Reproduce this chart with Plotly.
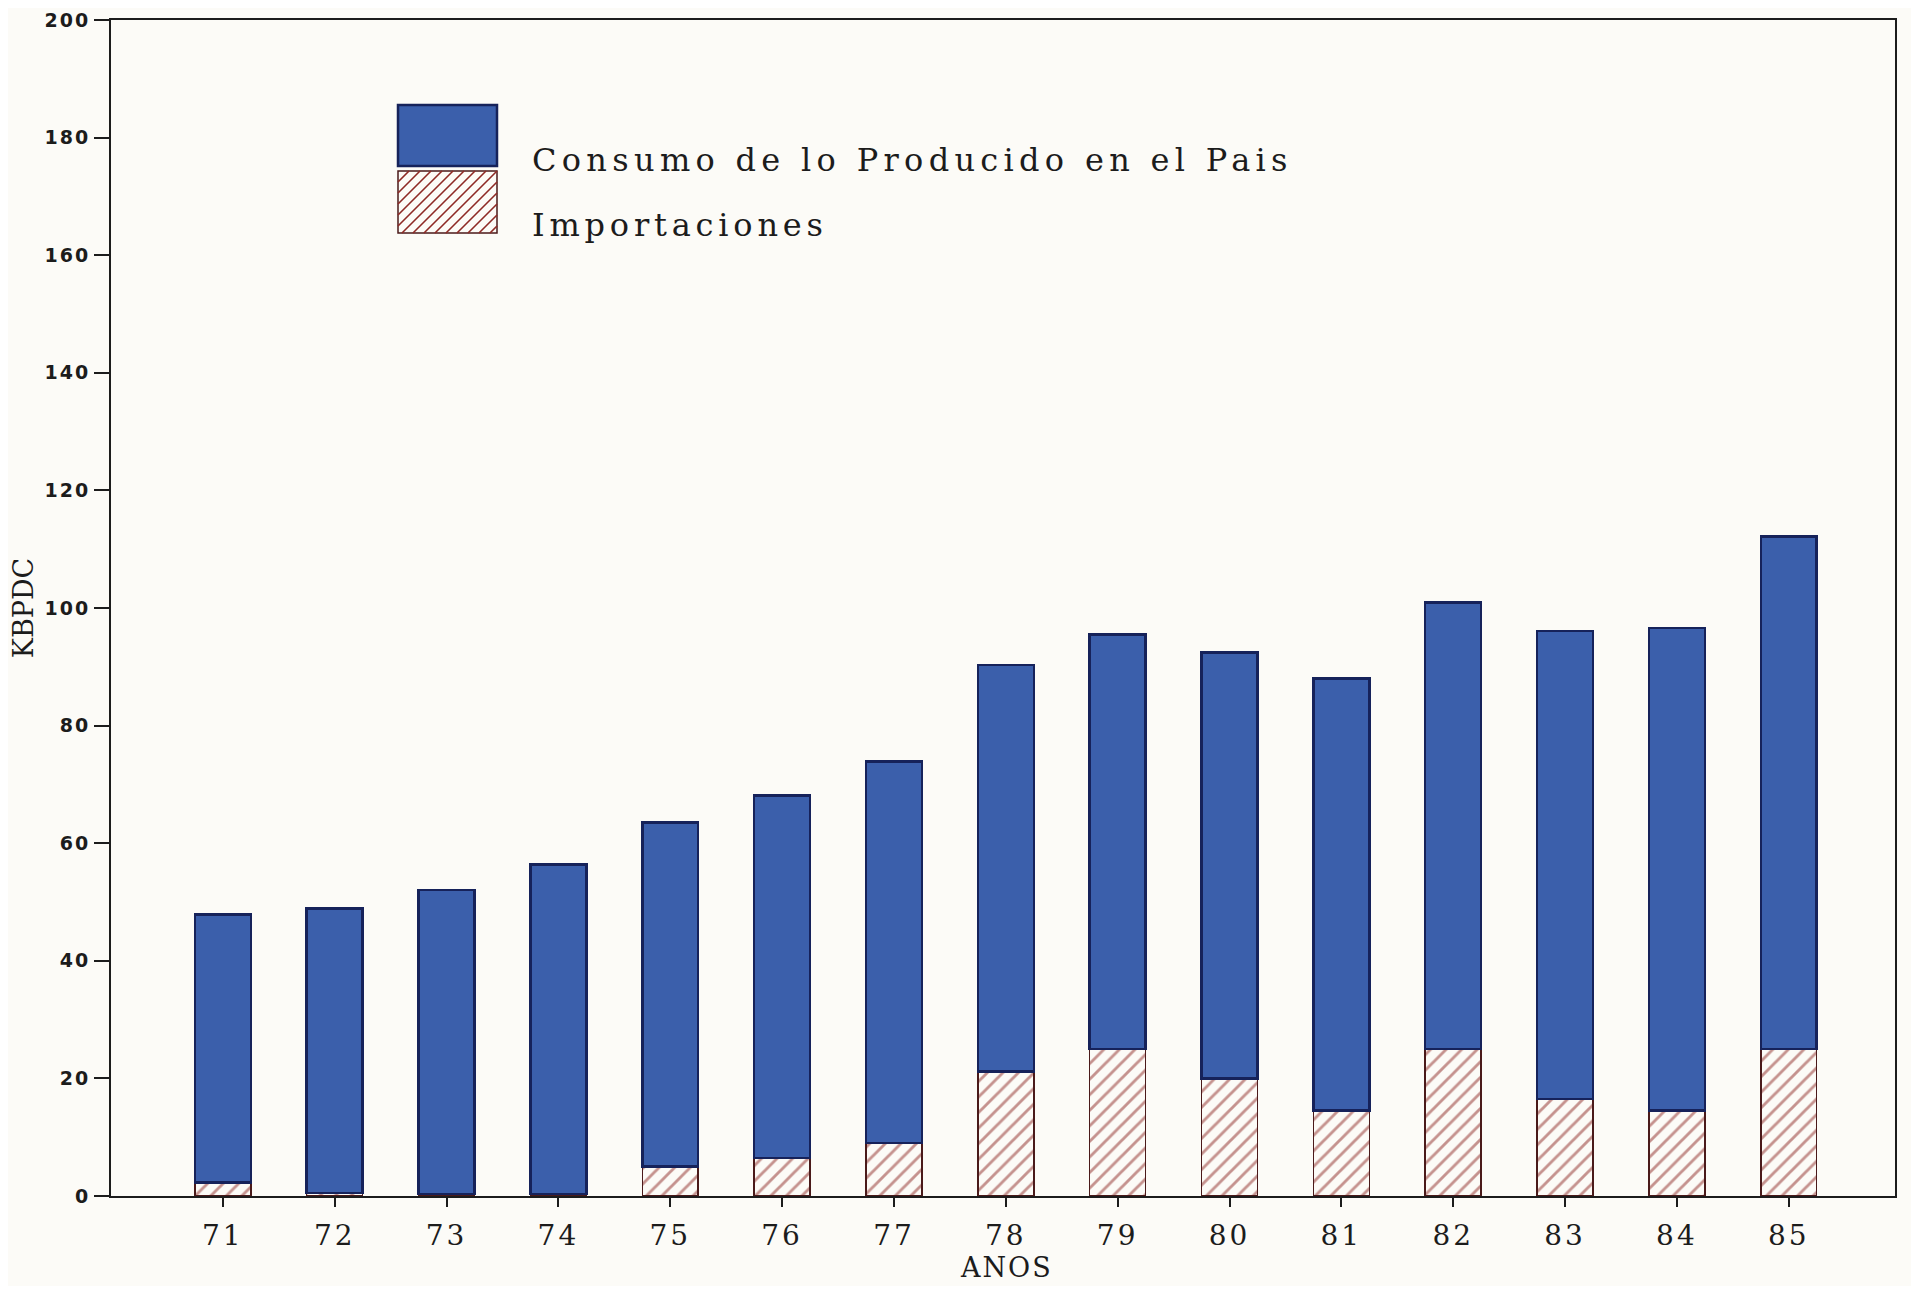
import plotly.graph_objs as go

# values (KBPDC)
years = [71, 72, 73, 74, 75, 76, 77, 78, 79, 80, 81, 82, 83, 84, 85]
year_labels = [str(y) for y in years]
domestic = [45.6, 48.4, 51.7, 56.1, 58.5, 61.6, 64.9, 69.1, 70.5, 72.4, 73.5, 75.9, 79.6, 82.1, 87.2]
imports = [2.3, 0.5, 0.3, 0.3, 5.0, 6.5, 9.0, 21.2, 25.0, 20.0, 14.5, 25.0, 16.5, 14.5, 25.0]
y_ticks = [0, 20, 40, 60, 80, 100, 120, 140, 160, 180, 200]

name_dom = "Consumo de lo Producido en el Pais"
name_imp = "Importaciones"

BLUE = "#3b5fab"
NAVY = "#16225a"
HATCH = "#8e2a25"
BG = "#fcfbf7"
INK = "#1c1c1c"

def tracked(s, px):
    # old plotter lettering is widely spaced
    return f'<span style="letter-spacing:{px}px">{s}</span>'

# page has an 8px body margin, so the figure is shrunk to fit
W, H = 1903, 1278
L, R, T, B = 103, 16, 12, 90
x_range = [70, 85.95]
y_range = [0, 200]

fig = go.Figure()

fig.add_trace(go.Bar(
    x=years, y=imports, name=name_imp, width=0.5,
    marker=dict(color=BG, line=dict(color="#4a1a1a", width=1.5),
                pattern=dict(shape="/", fgcolor=HATCH, bgcolor=BG, size=11, solidity=0.26)),
))
fig.add_trace(go.Bar(
    x=years, y=domestic, name=name_dom, width=0.5,
    marker=dict(color=BLUE, line=dict(color=NAVY, width=2.5)),
))

# legend drawn as large swatches, like the original plotter legend
# (pixel positions measured on the reference plot area: left 111, top 20)
PL, PT, PW, PH = 111, 20, 1784, 1176
def px_to_x(px):
    return x_range[0] + (px - PL) / PW * (x_range[1] - x_range[0])
def py_to_y(py):
    return y_range[0] + (PT + PH - py) / PH * (y_range[1] - y_range[0])

bx0, bx1 = 398, 497
shapes = [
    dict(type="rect", x0=px_to_x(bx0), x1=px_to_x(bx1), y0=py_to_y(166), y1=py_to_y(105),
         fillcolor=BLUE, line=dict(color=NAVY, width=2.5)),
    dict(type="rect", x0=px_to_x(bx0), x1=px_to_x(bx1), y0=py_to_y(233), y1=py_to_y(171),
         fillcolor=BG, line=dict(color="#4a1a1a", width=1.5)),
]
# hatch lines inside the second swatch
hy0, hy1 = 171, 233
path = ""
step = 11
k = bx0 - (hy1 - hy0)
while k < bx1:
    xa, ya = k, hy1
    xb, yb = k + (hy1 - hy0), hy0
    if xa < bx0:
        ya = hy1 - (bx0 - xa); xa = bx0
    if xb > bx1:
        yb = hy0 + (xb - bx1); xb = bx1
    if xb > xa:
        path += f"M{px_to_x(xa)},{py_to_y(ya)} L{px_to_x(xb)},{py_to_y(yb)} "
    k += step
shapes.append(dict(type="path", path=path, line=dict(color=HATCH, width=1.6)))

annotations = [
    dict(x=px_to_x(530), y=py_to_y(160), text=tracked(name_dom, 5.3), showarrow=False, xanchor="left",
         font=dict(family="DejaVu Serif", size=32, color=INK)),
    dict(x=px_to_x(530), y=py_to_y(225), text=tracked(name_imp, 4.8), showarrow=False, xanchor="left",
         font=dict(family="DejaVu Serif", size=32, color=INK)),
    # x axis title, placed by hand (automargin is off)
    dict(x=0.502, y=-0.061, xref="paper", yref="paper", text=tracked("ANOS", 2), showarrow=False,
         xanchor="center", yanchor="middle",
         font=dict(family="DejaVu Serif", size=27, color=INK)),
]

fig.update_layout(
    width=W, height=H,
    barmode="stack",
    showlegend=False,
    paper_bgcolor=BG, plot_bgcolor=BG,
    margin=dict(l=L, r=R, t=T, b=B),
    shapes=shapes,
    annotations=annotations,
    xaxis=dict(
        range=x_range, tickvals=years, ticktext=[tracked(t, 3) for t in year_labels],
        automargin=False,
        showline=True, linecolor=INK, linewidth=2, mirror=True,
        ticks="outside", ticklen=9, tickwidth=1.5, tickcolor=INK,
        ticklabelstandoff=4,
        showgrid=False, zeroline=False,
        tickfont=dict(family="DejaVu Serif", size=28, color=INK),
    ),
    yaxis=dict(
        range=y_range, tickvals=y_ticks, ticktext=[tracked(str(v), 2) for v in y_ticks],
        automargin=False,
        showline=True, linecolor=INK, linewidth=2, mirror=True,
        ticks="outside", ticklen=15, tickwidth=1.5, tickcolor=INK,
        showgrid=False, zeroline=False,
        tickfont=dict(family="DejaVu Sans", size=19, color=INK, weight="bold"),
        title=dict(text="KBPDC", font=dict(family="DejaVu Serif", size=27, color=INK), standoff=14),
    ),
)

fig.write_html("out.html")
